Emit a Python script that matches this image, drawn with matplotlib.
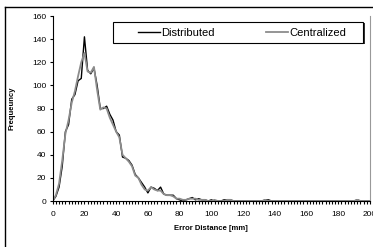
import matplotlib
matplotlib.use("Agg")
import matplotlib.pyplot as plt
from matplotlib.lines import Line2D
from matplotlib.patches import Rectangle
from matplotlib.ticker import MultipleLocator

plt.rcParams["font.family"] = ["Liberation Sans", "DejaVu Sans"]

# error distance bins [mm], step 2
error_mm = list(range(0, 201, 2))

distributed = [
    0, 4, 12, 30, 60, 66, 88, 92, 104, 106,
    142, 113, 110, 115, 100, 80, 80, 82, 75, 70,
    60, 57, 38, 37, 35, 31, 23, 20, 16, 12,
    7, 12, 11, 9, 12, 6, 5, 5, 5, 2,
    1, 0, 1, 2, 3, 1, 2, 1, 1, 0,
    1, 0, 0, 0, 1, 1, 1, 0, 0, 0,
    0, 0, 0, 0, 0, 0, 0, 1, 1, 0,
    0, 0, 0, 0, 0, 0, 0, 0, 0, 0,
    0, 0, 0, 0, 0, 0, 0, 0, 0, 0,
    0, 0, 0, 0, 0, 0, 1, 0, 0, 0,
    0,
]

centralized = [
    0, 5, 15, 35, 58, 70, 85, 95, 108, 120,
    128, 112, 111, 116, 96, 79, 81, 80, 72, 66,
    60, 55, 40, 37, 34, 30, 22, 20, 14, 10,
    9, 12, 10, 9, 9, 6, 5, 5, 4, 2,
    2, 1, 1, 2, 2, 2, 1, 1, 1, 0,
    0, 1, 0, 0, 0, 1, 1, 0, 0, 0,
    0, 0, 0, 0, 0, 0, 0, 1, 0, 0,
    0, 0, 0, 0, 0, 0, 0, 0, 0, 0,
    0, 0, 0, 0, 0, 0, 0, 0, 0, 0,
    0, 0, 0, 0, 0, 0, 1, 0, 0, 0,
    0,
]

W, H = 373, 247
fig = plt.figure(figsize=(W / 100, H / 100), dpi=100)
ax = fig.add_axes([52.7 / W, 1 - 201 / H, (370 - 52.7) / W, (201 - 16) / H])

ax.plot(error_mm, distributed, color="black", lw=1.0, label="Distributed")
ax.plot(error_mm, centralized, color="#8c8c8c", lw=1.3, label="Centralized")

ax.set_xlim(0, 200)
ax.set_ylim(0, 160)
ax.xaxis.set_major_locator(MultipleLocator(20))
ax.xaxis.set_minor_locator(MultipleLocator(2))
ax.yaxis.set_major_locator(MultipleLocator(20))
ax.tick_params(axis="both", which="both", direction="out", length=2.5,
               width=0.8, labelsize=6, pad=2, colors="black")
ax.tick_params(axis="x", which="major", pad=5)

ax.spines["top"].set_visible(False)
ax.spines["right"].set_color("#999999")
ax.spines["left"].set_linewidth(0.8)
ax.spines["bottom"].set_linewidth(0.8)

ax.set_xlabel("Error Distance [mm]", fontsize=5.5, fontweight="bold", labelpad=5)
ax.set_ylabel("Frequeuncy", fontsize=5.5, fontweight="bold", labelpad=12)

# legend box with a dark shadow on the lower right
lx0, ly0, lx1, ly1 = 113, 22, 363, 43
fig.add_artist(Rectangle((lx0 / W + 1.5 / W, 1 - ly1 / H - 1.5 / H),
                         (lx1 - lx0) / W, (ly1 - ly0) / H,
                         facecolor="#333333", edgecolor="none", zorder=4))
fig.add_artist(Rectangle((lx0 / W, 1 - ly1 / H), (lx1 - lx0) / W, (ly1 - ly0) / H,
                         facecolor="white", edgecolor="black", lw=0.8, zorder=5))
leg = fig.legend(*ax.get_legend_handles_labels(), loc="center", ncol=2,
                 bbox_to_anchor=((lx0 + lx1) / 2 / W + 4 / W, 1 - (ly0 + ly1) / 2 / H),
                 fontsize=8, frameon=False, handlelength=2.0,
                 handletextpad=0.1, columnspacing=4.6, borderpad=0)
leg.set_zorder(6)

# outer chart border
fig.add_artist(Line2D([4.7 / W, 4.7 / W], [0, 1 - 7 / H], color="black", lw=1.0))
fig.add_artist(Line2D([4.7 / W, 1], [1 - 7 / H, 1 - 7 / H], color="black", lw=1.0))

fig.savefig("out.png", dpi=100)
